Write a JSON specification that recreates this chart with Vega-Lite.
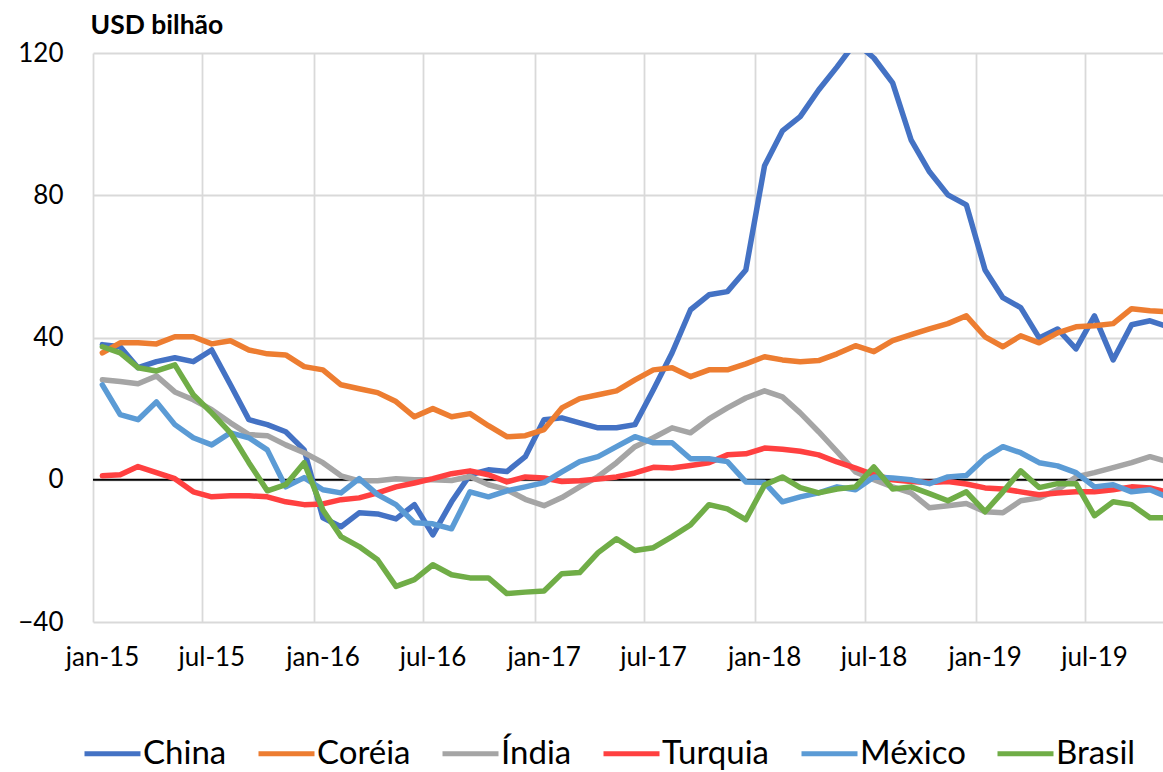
{
  "$schema": "https://vega.github.io/schema/vega-lite/v6.json",
  "width": 1070,
  "height": 569,
  "autosize": {"type": "none"},
  "padding": {"left": 93, "top": 53, "right": 0, "bottom": 150},
  "background": "white",
  "config": {
    "view": {"stroke": null},
    "font": "Lato",
    "axisY": {
      "grid": true,
      "gridColor": "#D9D9D9",
      "gridWidth": 1.8,
      "domain": false,
      "ticks": false,
      "labelPadding": 30,
      "labelFont": "Lato",
      "labelFontSize": 26,
      "labelColor": "#000000",
      "titleAngle": 0,
      "titleAlign": "left",
      "titleBaseline": "alphabetic",
      "titleX": -3,
      "titleY": -20,
      "titleFont": "Lato",
      "titleFontSize": 26.5,
      "titleFontWeight": "bold",
      "titleColor": "#000000"
    }
  },
  "layer": [
    {
      "data": {"values": [{}]},
      "mark": {"type": "rule", "color": "#000000", "strokeWidth": 2},
      "encoding": {
        "y": {
          "datum": 0,
          "type": "quantitative",
          "scale": {"domain": [-40, 120], "nice": false, "zero": false},
          "axis": {"values": [-40, 0, 40, 80, 120], "title": "USD bilhão"}
        }
      }
    },
    {
      "data": {
        "values": [
          {"m": "2015-01-01", "China": 38.0, "Coréia": 35.7, "Índia": 28.1, "Turquia": 1.1, "México": 26.7, "Brasil": 37.4},
          {"m": "2015-02-01", "China": 37.4, "Coréia": 38.5, "Índia": 27.6, "Turquia": 1.4, "México": 18.3, "Brasil": 35.7},
          {"m": "2015-03-01", "China": 31.5, "Coréia": 38.5, "Índia": 27.0, "Turquia": 3.7, "México": 16.9, "Brasil": 31.5},
          {"m": "2015-04-01", "China": 33.2, "Coréia": 38.2, "Índia": 29.2, "Turquia": 2.0, "México": 21.9, "Brasil": 30.6},
          {"m": "2015-05-01", "China": 34.3, "Coréia": 40.2, "Índia": 24.7, "Turquia": 0.3, "México": 15.5, "Brasil": 32.3},
          {"m": "2015-06-01", "China": 33.2, "Coréia": 40.2, "Índia": 22.5, "Turquia": -3.4, "México": 11.8, "Brasil": 23.9},
          {"m": "2015-07-01", "China": 36.5, "Coréia": 38.2, "Índia": 19.7, "Turquia": -4.8, "México": 9.8, "Brasil": 18.8},
          {"m": "2015-08-01", "China": 26.7, "Coréia": 39.1, "Índia": 16.0, "Turquia": -4.5, "México": 13.2, "Brasil": 13.2},
          {"m": "2015-09-01", "China": 16.9, "Coréia": 36.5, "Índia": 12.7, "Turquia": -4.5, "México": 11.8, "Brasil": 4.8},
          {"m": "2015-10-01", "China": 15.5, "Coréia": 35.4, "Índia": 12.4, "Turquia": -4.8, "México": 8.4, "Brasil": -3.1},
          {"m": "2015-11-01", "China": 13.5, "Coréia": 35.1, "Índia": 9.8, "Turquia": -6.2, "México": -2.0, "Brasil": -1.4},
          {"m": "2015-12-01", "China": 8.4, "Coréia": 31.8, "Índia": 7.6, "Turquia": -7.0, "México": 0.6, "Brasil": 4.8},
          {"m": "2016-01-01", "China": -10.7, "Coréia": 30.9, "Índia": 4.8, "Turquia": -6.8, "México": -2.8, "Brasil": -8.5},
          {"m": "2016-02-01", "China": -13.2, "Coréia": 26.7, "Índia": 1.1, "Turquia": -5.6, "México": -3.7, "Brasil": -16.0},
          {"m": "2016-03-01", "China": -9.3, "Coréia": 25.6, "Índia": -0.3, "Turquia": -5.1, "México": 0.3, "Brasil": -18.8},
          {"m": "2016-04-01", "China": -9.6, "Coréia": 24.5, "Índia": -0.3, "Turquia": -3.7, "México": -4.2, "Brasil": -22.5},
          {"m": "2016-05-01", "China": -11.0, "Coréia": 22.0, "Índia": 0.3, "Turquia": -2.0, "México": -7.0, "Brasil": -30.0},
          {"m": "2016-06-01", "China": -7.0, "Coréia": 17.7, "Índia": 0.0, "Turquia": -0.9, "México": -12.1, "Brasil": -28.1},
          {"m": "2016-07-01", "China": -15.5, "Coréia": 20.0, "Índia": 0.0, "Turquia": 0.3, "México": -12.4, "Brasil": -23.9},
          {"m": "2016-08-01", "China": -6.2, "Coréia": 17.7, "Índia": -0.2, "Turquia": 1.7, "México": -13.8, "Brasil": -26.7},
          {"m": "2016-09-01", "China": 1.4, "Coréia": 18.6, "Índia": 0.9, "Turquia": 2.5, "México": -3.4, "Brasil": -27.6},
          {"m": "2016-10-01", "China": 2.8, "Coréia": 15.2, "Índia": -1.4, "Turquia": 1.4, "México": -4.8, "Brasil": -27.6},
          {"m": "2016-11-01", "China": 2.3, "Coréia": 12.1, "Índia": -2.8, "Turquia": -0.6, "México": -3.1, "Brasil": -32.0},
          {"m": "2016-12-01", "China": 6.5, "Coréia": 12.4, "Índia": -5.5, "Turquia": 0.8, "México": -2.0, "Brasil": -31.6},
          {"m": "2017-01-01", "China": 16.9, "Coréia": 14.1, "Índia": -7.3, "Turquia": 0.5, "México": -0.8, "Brasil": -31.3},
          {"m": "2017-02-01", "China": 17.4, "Coréia": 20.2, "Índia": -5.0, "Turquia": -0.5, "México": 2.2, "Brasil": -26.4},
          {"m": "2017-03-01", "China": 16.0, "Coréia": 22.8, "Índia": -2.0, "Turquia": -0.3, "México": 5.1, "Brasil": -26.1},
          {"m": "2017-04-01", "China": 14.6, "Coréia": 23.9, "Índia": 0.9, "Turquia": 0.2, "México": 6.5, "Brasil": -20.5},
          {"m": "2017-05-01", "China": 14.6, "Coréia": 25.0, "Índia": 4.8, "Turquia": 0.8, "México": 9.3, "Brasil": -16.6},
          {"m": "2017-06-01", "China": 15.5, "Coréia": 28.1, "Índia": 9.3, "Turquia": 1.9, "México": 12.1, "Brasil": -19.9},
          {"m": "2017-07-01", "China": 25.3, "Coréia": 30.9, "Índia": 11.8, "Turquia": 3.5, "México": 10.4, "Brasil": -19.1},
          {"m": "2017-08-01", "China": 35.7, "Coréia": 31.5, "Índia": 14.6, "Turquia": 3.3, "México": 10.4, "Brasil": -16.0},
          {"m": "2017-09-01", "China": 47.8, "Coréia": 29.0, "Índia": 13.2, "Turquia": 4.0, "México": 5.9, "Brasil": -12.7},
          {"m": "2017-10-01", "China": 52.0, "Coréia": 30.9, "Índia": 17.1, "Turquia": 4.8, "México": 5.9, "Brasil": -7.0},
          {"m": "2017-11-01", "China": 52.9, "Coréia": 30.9, "Índia": 20.2, "Turquia": 7.0, "México": 5.1, "Brasil": -8.2},
          {"m": "2017-12-01", "China": 59.0, "Coréia": 32.6, "Índia": 23.0, "Turquia": 7.3, "México": -0.6, "Brasil": -11.2},
          {"m": "2018-01-01", "China": 88.3, "Coréia": 34.6, "Índia": 25.0, "Turquia": 8.9, "México": -0.8, "Brasil": -1.5},
          {"m": "2018-02-01", "China": 98.1, "Coréia": 33.7, "Índia": 23.3, "Turquia": 8.6, "México": -6.2, "Brasil": 0.8},
          {"m": "2018-03-01", "China": 102.1, "Coréia": 33.2, "Índia": 18.8, "Turquia": 8.0, "México": -4.8, "Brasil": -2.2},
          {"m": "2018-04-01", "China": 109.6, "Coréia": 33.5, "Índia": 13.5, "Turquia": 7.0, "México": -3.7, "Brasil": -3.7},
          {"m": "2018-05-01", "China": 116.1, "Coréia": 35.4, "Índia": 7.9, "Turquia": 5.0, "México": -2.0, "Brasil": -2.6},
          {"m": "2018-06-01", "China": 123.0, "Coréia": 37.7, "Índia": 2.2, "Turquia": 3.3, "México": -2.8, "Brasil": -2.0},
          {"m": "2018-07-01", "China": 118.6, "Coréia": 36.0, "Índia": 0.0, "Turquia": 1.4, "México": 0.8, "Brasil": 3.6},
          {"m": "2018-08-01", "China": 111.6, "Coréia": 39.1, "Índia": -2.0, "Turquia": 0.0, "México": 0.5, "Brasil": -2.6},
          {"m": "2018-09-01", "China": 95.6, "Coréia": 40.8, "Índia": -3.7, "Turquia": -0.5, "México": 0.0, "Brasil": -2.0},
          {"m": "2018-10-01", "China": 86.6, "Coréia": 42.4, "Índia": -7.9, "Turquia": -0.8, "México": -1.1, "Brasil": -3.9},
          {"m": "2018-11-01", "China": 80.1, "Coréia": 43.9, "Índia": -7.3, "Turquia": -0.5, "México": 0.8, "Brasil": -5.9},
          {"m": "2018-12-01", "China": 77.3, "Coréia": 46.1, "Índia": -6.7, "Turquia": -1.2, "México": 1.2, "Brasil": -3.4},
          {"m": "2019-01-01", "China": 59.0, "Coréia": 40.2, "Índia": -9.0, "Turquia": -2.3, "México": 6.2, "Brasil": -9.0},
          {"m": "2019-02-01", "China": 51.2, "Coréia": 37.4, "Índia": -9.3, "Turquia": -2.6, "México": 9.3, "Brasil": -3.4},
          {"m": "2019-03-01", "China": 48.4, "Coréia": 40.5, "Índia": -5.9, "Turquia": -3.4, "México": 7.6, "Brasil": 2.5},
          {"m": "2019-04-01", "China": 39.9, "Coréia": 38.5, "Índia": -5.1, "Turquia": -4.2, "México": 4.8, "Brasil": -2.2},
          {"m": "2019-05-01", "China": 42.4, "Coréia": 41.3, "Índia": -2.8, "Turquia": -3.7, "México": 3.9, "Brasil": -1.1},
          {"m": "2019-06-01", "China": 36.8, "Coréia": 43.0, "Índia": 0.8, "Turquia": -3.4, "México": 2.0, "Brasil": -1.1},
          {"m": "2019-07-01", "China": 46.1, "Coréia": 43.3, "Índia": 2.0, "Turquia": -3.4, "México": -2.0, "Brasil": -10.1},
          {"m": "2019-08-01", "China": 33.7, "Coréia": 43.9, "Índia": 3.4, "Turquia": -2.8, "México": -1.4, "Brasil": -6.2},
          {"m": "2019-09-01", "China": 43.6, "Coréia": 48.1, "Índia": 4.8, "Turquia": -2.0, "México": -3.4, "Brasil": -7.0},
          {"m": "2019-10-01", "China": 44.7, "Coréia": 47.5, "Índia": 6.5, "Turquia": -2.3, "México": -2.8, "Brasil": -10.7},
          {"m": "2019-11-01", "China": 43.0, "Coréia": 47.2, "Índia": 5.0, "Turquia": -3.6, "México": -5.0, "Brasil": -10.7}
        ]
      },
      "transform": [
        {"fold": ["China", "Coréia", "Índia", "Turquia", "México", "Brasil"], "as": ["pais", "valor"]}
      ],
      "mark": {"type": "line", "strokeWidth": 5.5, "clip": true, "strokeJoin": "round", "strokeCap": "round"},
      "encoding": {
        "x": {
          "field": "m",
          "type": "temporal",
          "timeUnit": "utcyearmonth",
          "bandPosition": 0.5,
          "scale": {
            "type": "utc",
            "domain": [
              {"year": 2015, "month": 1, "date": 1, "utc": true},
              {"year": 2019, "month": 11, "date": 7, "utc": true}
            ]
          },
          "axis": {
            "title": null,
            "values": [
              {"year": 2015, "month": 1, "date": 1, "utc": true},
              {"year": 2015, "month": 7, "date": 1, "utc": true},
              {"year": 2016, "month": 1, "date": 1, "utc": true},
              {"year": 2016, "month": 7, "date": 1, "utc": true},
              {"year": 2017, "month": 1, "date": 1, "utc": true},
              {"year": 2017, "month": 7, "date": 1, "utc": true},
              {"year": 2018, "month": 1, "date": 1, "utc": true},
              {"year": 2018, "month": 7, "date": 1, "utc": true},
              {"year": 2019, "month": 1, "date": 1, "utc": true},
              {"year": 2019, "month": 7, "date": 1, "utc": true}
            ],
            "labelExpr": "lower(utcFormat(datum.value, '%b-%y'))",
            "grid": true,
            "gridColor": "#D9D9D9",
            "gridWidth": 1.8,
            "domain": false,
            "ticks": false,
            "labelOffset": 9,
            "labelPadding": 22,
            "labelFont": "Lato",
            "labelFontSize": 26,
            "labelColor": "#000000",
            "labelFlush": false,
            "labelOverlap": false
          }
        },
        "y": {
          "field": "valor",
          "type": "quantitative",
          "scale": {"domain": [-40, 120], "nice": false, "zero": false},
          "axis": {"values": [-40, 0, 40, 80, 120], "title": "USD bilhão"}
        },
        "color": {
          "field": "pais",
          "type": "nominal",
          "scale": {
            "domain": ["China", "Coréia", "Índia", "Turquia", "México", "Brasil"],
            "range": ["#4472C4", "#ED7D31", "#A5A5A5", "#FF4040", "#5B9BD5", "#70AD47"]
          },
          "legend": {
            "title": null,
            "orient": "none",
            "legendX": -11,
            "legendY": 670,
            "direction": "horizontal",
            "symbolType": "stroke",
            "symbolSize": 3136,
            "symbolStrokeWidth": 5,
            "labelFont": "Lato",
            "labelFontSize": 33,
            "labelColor": "#000000",
            "labelOffset": 0,
            "columnPadding": 21,
            "padding": 0,
            "labelLimit": 0
          }
        }
      }
    }
  ]
}
